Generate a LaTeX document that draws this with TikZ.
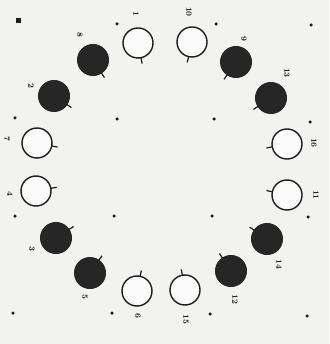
\documentclass[tikz,border=0pt]{standalone}
\usetikzlibrary{calc}
\definecolor{paper}{RGB}{242,242,240}
\definecolor{ink}{RGB}{28,28,28}
\definecolor{solid}{RGB}{38,38,38}
\tikzset{
  ringopen/.style={circle,draw=ink,line width=1.4pt,fill=white!97!gray,minimum size=30pt,inner sep=0pt},
  ringfull/.style={circle,draw=solid,line width=1pt,fill=solid,minimum size=31pt,inner sep=0pt},
  numlab/.style={font=\fontsize{8}{8}\selectfont\bfseries,text=ink,rotate=-90,inner sep=0pt},
  griddot/.style={circle,fill=ink,minimum size=3.5pt,inner sep=0pt},
  bigdot/.style={rectangle,fill=ink,minimum size=5pt,inner sep=0pt},
  stem/.style={draw=ink,line width=1.2pt}
}
\begin{document}
\begin{tikzpicture}[x=1pt,y=-1pt]
\fill[paper] (0,0) rectangle (329,344);
\useasboundingbox (0,0) rectangle (329,344);
\coordinate (ctr) at (163,168);
% grid dots
\node[bigdot] (d1) at (18,21) {};
\foreach \n/\x/\y in {d2/117/24,d3/216/24,d4/311/25,
  d5/15/118,d6/117/119,d7/214/119,d8/310/122,
  d9/15/216,d10/114/216,d11/212/216,d12/308/217,
  d13/13/313,d14/112/313,d15/210/314,d16/307/316}
  \node[griddot] (\n) at (\x,\y) {};
% circles: name / x / y / style / label text / label x / label y
\foreach \n/\x/\y/\s/\t/\lx/\ly in {
  1/138/43/ringopen/1/136/14,
  10/192/42/ringopen/10/189/12,
  9/236/62/ringfull/9/244/39,
  13/271/98/ringfull/13/287/73,
  16/287/144/ringopen/16/314/143,
  11/287/195/ringopen/11/316/195,
  14/267/239/ringfull/14/279/264,
  12/231/271/ringfull/12/235/299,
  15/185/290/ringopen/15/186/319,
  6/137/291/ringopen/6/138/316,
  5/90/273/ringfull/5/85/297,
  3/56/238/ringfull/3/32/249,
  4/36/191/ringopen/4/10/194,
  7/37/143/ringopen/7/7/139,
  2/54/96/ringfull/2/31/86,
  8/93/60/ringfull/8/80/35}
{
  \node[\s] (c\n) at (\x,\y) {};
  \draw[stem] ($(c\n.center)!15pt!(ctr)$) -- ($(c\n.center)!21pt!(ctr)$);
  \node[numlab] (l\n) at (\lx,\ly) {\t};
}
\end{tikzpicture}
\end{document}
